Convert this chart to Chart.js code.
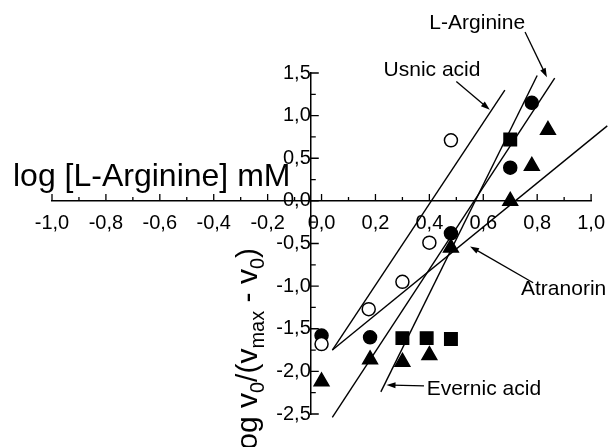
<!DOCTYPE html>
<html>
<head>
<meta charset="utf-8">
<title>Hill plot – L-Arginine</title>
<script src="https://cdn.jsdelivr.net/npm/chart.js@4.4.1/dist/chart.umd.min.js"></script>
<style>
  html, body { margin: 0; padding: 0; background: #fff; }
  #wrap { width: 616px; height: 447px; }
</style>
</head>
<body>
<div id="wrap"><canvas id="chart" width="616" height="447"></canvas></div>
<script>
/* global Chart */

const FONT = "'Liberation Sans', Arial, Helvetica, sans-serif";

const usnicX = [0.00, 0.175, 0.30, 0.40, 0.48];
const usnicY = [-1.68, -1.27, -0.95, -0.49, 0.71];

const argX = [0.00, 0.18, 0.48, 0.70, 0.78];
const argY = [-1.58, -1.60, -0.38, 0.39, 1.15];

const evernicX = [0.30, 0.39, 0.48, 0.70];
const evernicY = [-1.61, -1.61, -1.62, 0.72];

const atranorinX = [0.00, 0.18, 0.30, 0.40, 0.48, 0.70, 0.78, 0.84];
const atranorinY = [-2.12, -1.86, -1.89, -1.81, -0.55, 0.00, 0.41, 0.83];

// fitted lines (two end points each)
const usnicFitX = [0.04, 0.68];
const usnicFitY = [-1.75, 1.30];
const atranorinFitX = [0.04, 1.06];
const atranorinFitY = [-1.75, 0.88];
const argFitX = [0.04, 0.865];
const argFitY = [-2.54, 1.44];
const evernicFitX = [0.22, 0.80];
const evernicFitY = [-2.24, 1.47];

// axes
const xTicks = [-1.0, -0.8, -0.6, -0.4, -0.2, 0.0, 0.2, 0.4, 0.6, 0.8, 1.0];
const xMinorTicks = [-0.9, -0.7, -0.5, -0.3, -0.1, 0.1, 0.3, 0.5, 0.7, 0.9];
const yTicks = [-2.5, -2.0, -1.5, -1.0, -0.5, 0.0, 0.5, 1.0, 1.5];
const yMinorTicks = [-2.25, -1.75, -1.25, -0.75, -0.25, 0.25, 0.75, 1.25];
const yAxisAt = -0.04; // the vertical axis sits a little left of x = 0

// callouts: text anchor and arrow (tail -> head), in data units
const callouts = [
  { text: "L-Arginine", at: [0.40, 2.02], from: [0.755, 1.98], to: [0.836, 1.45] },
  { text: "Usnic acid", at: [0.23, 1.47], from: [0.50, 1.40], to: [0.624, 1.07] },
  { text: "Atranorin", at: [0.74, -1.10], from: [0.785, -0.96], to: [0.551, -0.535] },
  { text: "Evernic acid", at: [0.39, -2.28], from: [0.38, -2.17], to: [0.241, -2.16] }
];

const fmt = (v) => (Math.abs(v) < 1e-9 ? 0 : v).toFixed(1).replace(".", ",");
const pts = (xs, ys) => xs.map((x, i) => ({ x, y: ys[i] }));

const marker = (label, xs, ys, style, radius, fill) => ({
  label,
  data: pts(xs, ys),
  showLine: false,
  pointStyle: style,
  pointRadius: radius,
  pointHoverRadius: radius,
  pointBackgroundColor: fill,
  pointBorderColor: "#000",
  pointBorderWidth: 1.5,
  clip: false
});

const fitLine = (label, xs, ys) => ({
  label,
  data: pts(xs, ys),
  showLine: true,
  borderColor: "#000",
  borderWidth: 1.4,
  pointRadius: 0,
  fill: false,
  clip: false
});

const arrow = (ctx, x1, y1, x2, y2) => {
  const a = Math.atan2(y2 - y1, x2 - x1);
  const len = 9, half = 3;
  ctx.beginPath();
  ctx.moveTo(x1, y1);
  ctx.lineTo(x2 - Math.cos(a) * len * 0.6, y2 - Math.sin(a) * len * 0.6);
  ctx.stroke();
  ctx.beginPath();
  ctx.moveTo(x2, y2);
  ctx.lineTo(x2 - Math.cos(a) * len - Math.sin(a) * half, y2 - Math.sin(a) * len + Math.cos(a) * half);
  ctx.lineTo(x2 - Math.cos(a) * len + Math.sin(a) * half, y2 - Math.sin(a) * len - Math.cos(a) * half);
  ctx.closePath();
  ctx.fill();
};

const decorPlugin = {
  id: "decor",
  afterDraw(chart) {
    const { ctx } = chart;
    const xs = chart.scales.x;
    const ys = chart.scales.y;
    const axisY = ys.getPixelForValue(0);
    const axisX = xs.getPixelForValue(yAxisAt);

    ctx.save();
    ctx.strokeStyle = "#000";
    ctx.fillStyle = "#000";
    ctx.lineWidth = 1.3;

    // tick marks point inwards (up on x, right on y)
    ctx.beginPath();
    for (const v of xTicks) { const p = xs.getPixelForValue(v); ctx.moveTo(p, axisY); ctx.lineTo(p, axisY - 7); }
    for (const v of xMinorTicks) { const p = xs.getPixelForValue(v); ctx.moveTo(p, axisY); ctx.lineTo(p, axisY - 4); }
    for (const v of yTicks) { const p = ys.getPixelForValue(v); ctx.moveTo(axisX, p); ctx.lineTo(axisX + 8, p); }
    for (const v of yMinorTicks) { const p = ys.getPixelForValue(v); ctx.moveTo(axisX, p); ctx.lineTo(axisX + 5, p); }
    ctx.stroke();

    // x title, left of the vertical axis above the horizontal one
    ctx.font = `32px ${FONT}`;
    ctx.textAlign = "left";
    ctx.textBaseline = "alphabetic";
    ctx.fillText("log [L-Arginine] mM", 13, 186);

    // y title, rotated, with subscripts
    const parts = [
      ["log v", false], ["0", true], ["/(v", false], ["max", true],
      [" - v", false], ["0", true], [")", false]
    ];
    const mainFont = `30px ${FONT}`;
    const subFont = `20px ${FONT}`;
    let total = 0;
    for (const [t, sub] of parts) { ctx.font = sub ? subFont : mainFont; total += ctx.measureText(t).width; }
    ctx.save();
    ctx.translate(257, 248 + total);
    ctx.rotate(-Math.PI / 2);
    let cx = 0;
    for (const [t, sub] of parts) {
      ctx.font = sub ? subFont : mainFont;
      ctx.fillText(t, cx, sub ? 7 : 0);
      cx += ctx.measureText(t).width;
    }
    ctx.restore();

    // callouts
    ctx.font = `21px ${FONT}`;
    ctx.lineWidth = 1.3;
    for (const c of callouts) {
      ctx.fillText(c.text, xs.getPixelForValue(c.at[0]), ys.getPixelForValue(c.at[1]));
      arrow(ctx,
        xs.getPixelForValue(c.from[0]), ys.getPixelForValue(c.from[1]),
        xs.getPixelForValue(c.to[0]), ys.getPixelForValue(c.to[1]));
    }
    ctx.restore();
  }
};

const tickFont = { family: FONT, size: 20 };

new Chart(document.getElementById("chart").getContext("2d"), {
  type: "scatter",
  data: {
    datasets: [
      fitLine("Usnic acid fit", usnicFitX, usnicFitY),
      fitLine("Atranorin fit", atranorinFitX, atranorinFitY),
      fitLine("L-Arginine fit", argFitX, argFitY),
      fitLine("Evernic acid fit", evernicFitX, evernicFitY),
      marker("Usnic acid", usnicX, usnicY, "circle", 6.5, "#fff"),
      marker("L-Arginine", argX, argY, "circle", 6.5, "#000"),
      marker("Evernic acid", evernicX, evernicY, "rect", 8.8, "#000"),
      marker("Atranorin", atranorinX, atranorinY, "triangle", 8.5, "#000")
    ]
  },
  options: {
    responsive: false,
    animation: false,
    events: [],
    layout: { padding: { left: 52, right: 16, top: 73, bottom: 33 } },
    plugins: { legend: { display: false }, tooltip: { enabled: false } },
    scales: {
      x: {
        type: "linear",
        min: -1,
        max: 1,
        position: { y: 0 },
        afterBuildTicks: (s) => { s.ticks = xTicks.map((v) => ({ value: v })); },
        grid: { display: true, drawOnChartArea: false, drawTicks: false },
        border: { display: true, color: "#000", width: 1.5 },
        ticks: { callback: fmt, color: "#000", font: tickFont, padding: 11, autoSkip: false, maxRotation: 0 }
      },
      y: {
        type: "linear",
        min: -2.5,
        max: 1.5,
        position: { x: yAxisAt },
        afterBuildTicks: (s) => { s.ticks = yTicks.map((v) => ({ value: v })); },
        grid: { display: true, drawOnChartArea: false, drawTicks: false },
        border: { display: true, color: "#000", width: 1.5 },
        ticks: { callback: fmt, color: "#000", font: tickFont, padding: 13, autoSkip: false }
      }
    }
  },
  plugins: [decorPlugin]
});
</script>
</body>
</html>
